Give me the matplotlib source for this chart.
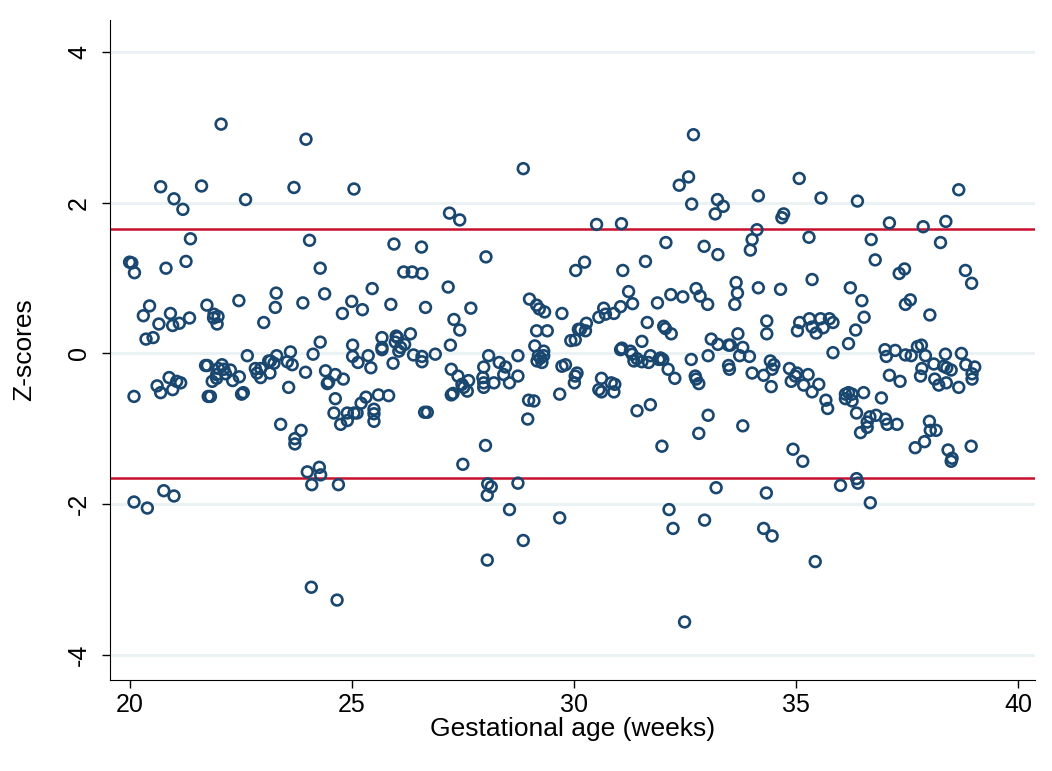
import matplotlib
matplotlib.use("Agg")
import matplotlib.pyplot as plt
import numpy as np

# gestational age (weeks) and z-score
ga_a = [20.0, 20.05, 20.11, 20.82, 21.27, 22.06, 20.70, 21.62, 21.0, 21.2, 22.61, 21.37,
        22.46, 20.45, 20.31, 20.92, 21.74, 20.66, 20.97, 21.12, 21.35, 21.9, 21.99, 21.89,
        21.97, 23.02, 20.37, 20.53, 22.65,
        20.1, 20.62, 20.7, 20.89, 20.97, 21.06, 21.15, 21.71, 21.75, 21.77, 21.82, 22.08,
        22.0, 22.12, 21.96, 22.16, 22.27, 21.86, 21.96, 22.32, 22.47, 22.52, 22.56, 22.83,
        22.95, 22.87, 22.95, 23.13,
        20.1, 20.4, 20.77, 21.0]
z_a = [1.21, 1.20, 1.07, 1.13, 1.22, 3.04, 2.21, 2.22, 2.05, 1.91, 2.04, 1.52,
       0.70, 0.63, 0.50, 0.53, 0.64, 0.39, 0.37, 0.40, 0.47, 0.52, 0.49, 0.47,
       0.39, 0.41, 0.19, 0.21, -0.03,
       -0.57, -0.43, -0.52, -0.32, -0.48, -0.37, -0.39, -0.16, -0.16, -0.57, -0.57, -0.15,
       -0.2, -0.21, -0.28, -0.27, -0.22, -0.37, -0.33, -0.36, -0.31, -0.54, -0.52, -0.2,
       -0.2, -0.26, -0.32, -0.1,
       -1.97, -2.05, -1.82, -1.89]

ga_b = [23.97, 23.7, 25.05, 24.05, 25.95, 26.57, 24.29, 26.17, 26.36, 26.58, 23.3, 24.39,
        25.46, 23.28, 23.9, 25.0, 25.24, 24.79, 25.88, 26.66, 24.29, 25.02, 25.68, 25.68,
        26.0, 26.03, 25.98, 26.1, 26.19, 26.32, 26.39, 26.58, 23.62, 23.31, 24.13, 25.02,
        25.37,
        23.17, 23.25, 23.16, 23.55, 23.66, 23.96, 23.58, 24.41, 24.63, 24.81, 24.45, 24.48,
        25.14, 25.43, 25.93, 26.58, 25.68, 26.06,
        24.63, 24.6, 24.75, 24.9, 24.9, 25.05, 25.12, 25.21, 25.32, 25.6, 25.83, 25.5,
        25.5, 25.5, 26.64, 23.4, 23.86, 23.72, 23.72, 24.0, 24.27, 24.3, 24.1, 24.7,
        24.09, 24.67]
z_b = [2.84, 2.2, 2.18, 1.5, 1.45, 1.41, 1.13, 1.08, 1.08, 1.06, 0.8, 0.79,
       0.86, 0.61, 0.67, 0.69, 0.58, 0.53, 0.65, 0.61, 0.15, 0.11, 0.21, 0.08,
       0.23, 0.21, 0.15, 0.08, 0.12, 0.26, -0.02, -0.04, 0.02, -0.03, -0.01, -0.04,
       -0.03,
       -0.1, -0.13, -0.26, -0.11, -0.15, -0.25, -0.45, -0.23, -0.28, -0.34, -0.4, -0.38,
       -0.12, -0.19, -0.13, -0.11, 0.05, 0.03,
       -0.6, -0.79, -0.94, -0.79, -0.89, -0.79, -0.79, -0.66, -0.58, -0.55, -0.56, -0.74,
       -0.8, -0.9, -0.78, -0.94, -1.02, -1.13, -1.2, -1.57, -1.51, -1.61, -1.74, -1.74,
       -3.1, -3.27]

ga_c = [28.86, 27.2, 27.43, 28.02, 30.04, 27.17, 27.68, 27.3, 27.43, 29.0, 29.16, 29.22,
        29.34, 29.73, 29.16, 29.4, 30.1, 29.93, 27.22, 26.88, 28.08, 28.74, 29.12, 29.32,
        29.2, 29.32,
        27.24, 27.39, 27.63, 27.48, 27.52, 27.24, 27.28, 27.6, 27.97, 27.95, 27.97, 27.97,
        28.2, 28.32, 28.46, 28.42, 28.55, 28.74, 29.25, 29.28, 29.17, 29.73, 29.81, 30.03,
        30.07, 30.01, 29.68, 28.98, 29.1, 28.96, 26.7, 28.01, 27.5, 28.06, 28.14, 28.05,
        28.74, 28.55, 29.68, 28.86, 28.05]
z_c = [2.45, 1.86, 1.77, 1.28, 1.1, 0.88, 0.6, 0.45, 0.31, 0.72, 0.64, 0.59,
       0.55, 0.53, 0.3, 0.3, 0.32, 0.17, 0.11, -0.01, -0.03, -0.03, 0.1, 0.03,
       -0.03, -0.03,
       -0.21, -0.3, -0.36, -0.41, -0.45, -0.55, -0.53, -0.5, -0.18, -0.32, -0.39, -0.45,
       -0.39, -0.12, -0.18, -0.28, -0.39, -0.3, -0.06, -0.12, -0.1, -0.17, -0.15, -0.3,
       -0.26, -0.39, -0.54, -0.62, -0.63, -0.87, -0.78, -1.22, -1.47, -1.73, -1.77, -1.88,
       -1.72, -2.07, -2.18, -2.48, -2.74]

ga_d = [32.69, 32.58, 32.37, 32.65, 33.23, 33.36, 33.18, 30.51, 31.07, 32.07, 32.93, 33.24,
        30.24, 31.1, 31.61, 31.23, 31.32, 31.05, 30.67, 30.71, 30.9, 30.56, 31.88, 32.18,
        32.45, 32.75, 32.84, 33.01, 30.15, 30.28, 30.26, 31.65, 32.02, 32.06, 32.19, 30.03,
        31.53, 31.08, 31.27, 31.31, 31.72, 31.95, 33.09, 33.24, 33.48, 33.02, 32.64,
        31.05, 31.35, 31.42, 31.53, 31.68, 31.91, 32.0, 32.12, 32.27, 32.73, 32.75, 32.81,
        33.48, 33.5, 30.62, 30.56, 30.62, 30.84, 30.92, 30.9, 31.72, 31.42, 33.02, 32.81,
        31.98, 33.2, 32.14, 32.23, 32.94, 32.49]
z_d = [2.9, 2.34, 2.23, 1.98, 2.04, 1.95, 1.85, 1.71, 1.72, 1.47, 1.42, 1.31,
       1.21, 1.1, 1.22, 0.82, 0.66, 0.62, 0.6, 0.52, 0.53, 0.48, 0.67, 0.78,
       0.75, 0.86, 0.76, 0.65, 0.32, 0.4, 0.3, 0.41, 0.36, 0.33, 0.26, 0.18,
       0.16, 0.07, 0.03, -0.01, -0.03, -0.06, 0.19, 0.12, 0.11, -0.03, -0.08,
       0.05, -0.1, -0.07, -0.11, -0.12, -0.08, -0.08, -0.21, -0.33, -0.3, -0.34, -0.4,
       -0.16, -0.21, -0.33, -0.48, -0.51, -0.39, -0.41, -0.51, -0.68, -0.76, -0.82, -1.06,
       -1.23, -1.78, -2.07, -2.32, -2.21, -3.56]

ga_e = [35.07, 34.15, 35.56, 36.38, 34.72, 34.68, 34.12, 34.01, 33.97, 35.29, 37.1, 36.69,
        36.78, 35.36, 33.65, 33.68, 33.62, 34.15, 34.65, 36.22, 36.48, 36.53, 36.34, 36.18,
        34.34, 34.34, 35.08, 35.03, 35.3, 35.36, 35.45, 35.55, 35.61, 35.75, 35.83, 33.69,
        33.52, 33.8, 33.73, 33.95, 35.83, 37.0, 37.03, 34.42,
        34.01, 34.27, 34.5, 34.46, 34.44, 34.85, 35.02, 34.98, 34.89, 35.27, 35.17, 35.36,
        35.51, 35.67, 35.71, 36.11, 36.18, 36.26, 36.11, 36.26, 36.52, 36.92, 36.36, 36.6,
        36.66, 36.8, 36.6, 36.45, 37.01, 37.05, 37.1, 33.8, 34.93, 35.15, 34.33, 36.0,
        36.36, 36.39, 36.67, 34.27, 34.46, 35.43]
z_e = [2.32, 2.09, 2.06, 2.02, 1.85, 1.8, 1.64, 1.51, 1.37, 1.54, 1.73, 1.51,
       1.24, 0.98, 0.94, 0.8, 0.65, 0.87, 0.85, 0.87, 0.7, 0.48, 0.31, 0.13,
       0.43, 0.26, 0.41, 0.3, 0.46, 0.35, 0.27, 0.46, 0.34, 0.46, 0.41, 0.26,
       0.11, 0.08, -0.03, -0.04, 0.01, 0.05, -0.04, -0.1,
       -0.26, -0.29, -0.15, -0.21, -0.44, -0.2, -0.26, -0.3, -0.37, -0.28, -0.42, -0.51,
       -0.41, -0.62, -0.73, -0.54, -0.52, -0.54, -0.6, -0.63, -0.52, -0.59, -0.79, -0.91,
       -0.84, -0.82, -0.98, -1.05, -0.87, -0.94, -0.29, -0.96, -1.27, -1.43, -1.85, -1.75,
       -1.66, -1.72, -1.98, -2.32, -2.42, -2.76]

ga_f = [38.66, 37.86, 38.37, 38.25, 37.32, 37.44, 38.81, 38.95, 37.46, 37.57, 38.01, 37.23,
        37.46, 37.59, 37.73, 37.82, 37.91, 38.36, 38.72,
        37.34, 37.83, 37.8, 38.1, 38.32, 38.39, 38.49, 38.12, 38.21, 38.38, 38.66, 38.82,
        39.02, 38.96, 38.96, 37.27, 38.0, 38.02, 38.15, 37.68, 37.89, 38.42, 38.51, 38.49,
        38.94]
z_f = [2.17, 1.68, 1.75, 1.47, 1.06, 1.12, 1.1, 0.93, 0.65, 0.71, 0.51, 0.04,
       -0.02, -0.03, 0.09, 0.11, -0.03, -0.01, 0.0,
       -0.37, -0.2, -0.3, -0.14, -0.17, -0.19, -0.22, -0.34, -0.42, -0.39, -0.45, -0.15,
       -0.18, -0.27, -0.34, -0.94, -0.9, -1.02, -1.02, -1.25, -1.17, -1.28, -1.39, -1.43,
       -1.23]

ref_lines = [1.645, -1.645]
x_ticks = [20, 25, 30, 35, 40]
y_ticks = [-4, -2, 0, 2, 4]

ga = np.array(ga_a + ga_b + ga_c + ga_d + ga_e + ga_f)
z = np.array(z_a + z_b + z_c + z_d + z_e + z_f)

plt.rcParams['font.family'] = ['Liberation Sans', 'DejaVu Sans']

fig = plt.figure(figsize=(10.52, 7.71), dpi=100)
ax = fig.add_axes([0.105, 0.118, 0.879, 0.856])

# light grid lines like the Stata scheme
for yt in y_ticks:
    ax.axhline(yt, color='#EAF2F3', linewidth=2.2, zorder=0)

for yl in ref_lines:
    ax.axhline(yl, color='#C8102E', linewidth=1.8, zorder=1)

ax.scatter(ga, z, s=60, facecolors='none', edgecolors='#1A476F', linewidths=1.9, zorder=2)

ax.set_xlim(19.57, 40.38)
ax.set_ylim(-4.33, 4.42)
ax.set_xticks(x_ticks)
ax.set_yticks(y_ticks)
ax.set_yticklabels([str(v) for v in y_ticks], rotation=90, va='center')

ax.spines['top'].set_visible(False)
ax.spines['right'].set_visible(False)
ax.tick_params(axis='both', labelsize=18, length=6, width=1, direction='out')
ax.tick_params(axis='y', pad=8)

ax.set_xlabel("Gestational age (weeks)", fontsize=19, labelpad=0)
ax.set_ylabel("Z-scores", fontsize=19, labelpad=22)

fig.savefig("out.png", dpi=100)
